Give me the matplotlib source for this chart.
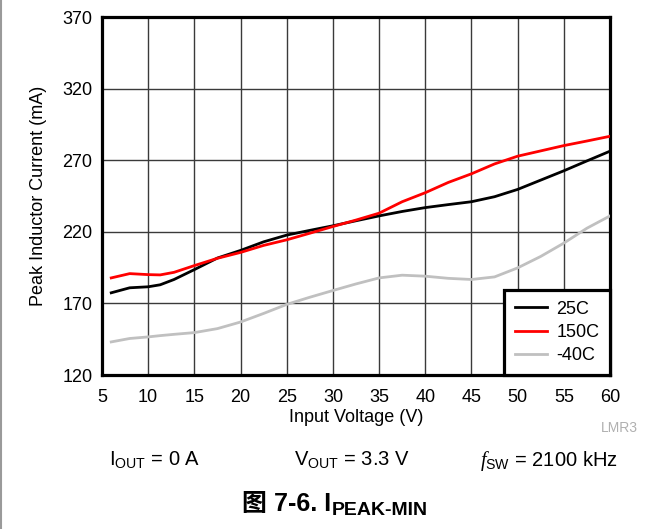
import numpy as np
import matplotlib.pyplot as plt
from matplotlib.lines import Line2D

plt.rcParams['font.family'] = ['Liberation Sans', 'Noto Sans CJK SC']
plt.rcParams['mathtext.fontset'] = 'custom'
plt.rcParams['mathtext.rm'] = 'Liberation Sans'
plt.rcParams['mathtext.it'] = 'Liberation Serif:italic'
plt.rcParams['mathtext.bf'] = 'Liberation Sans:bold'

#############
##Data##
#############
vin = [6, 8, 10, 11.3, 12.8, 15, 17.5, 20, 22.5, 25, 27.5, 30, 32.5, 35, 37.5,
       40, 42.5, 45, 47.5, 50, 52.5, 55, 57.5, 60]
i_25c = [177.4, 180.9, 181.6, 183.0, 186.7, 193.6, 201.7, 207.0, 213.0, 217.7, 221.0,
         224.2, 227.7, 231.1, 234.2, 236.9, 239.0, 241.0, 244.5, 249.6, 256.1,
         262.6, 269.5, 276.3]
i_150c = [187.8, 190.8, 190.1, 189.9, 191.7, 196.4, 201.5, 205.6, 210.5, 214.4, 219.0,
          223.7, 228.2, 233.0, 241.0, 247.3, 254.5, 260.5, 267.4, 272.8, 276.5,
          280.2, 283.4, 286.7]
i_m40c = [143.1, 145.5, 146.6, 147.5, 148.4, 149.6, 152.4, 157.0, 163.0, 169.3, 174.3,
          179.0, 183.6, 187.8, 189.7, 189.0, 187.5, 186.7, 188.5, 194.8, 202.8,
          212.1, 222.5, 231.1]
series_names = ["25C", "150C", "-40C"]
series_colors = ["black", "#ff0000", "#c0c0c0"]

x_ticks = np.arange(5, 61, 5)
y_ticks = np.arange(120, 371, 50)

###############
##Plot##
###############
fig = plt.figure(figsize=(6.63, 5.29), dpi=100)
ax = fig.add_axes([102/663, 1-375/529, 508/663, 358/529])

for vals, name, col in zip([i_25c, i_150c, i_m40c], series_names, series_colors):
    ax.plot(vin, vals, color=col, lw=2, label=name, zorder=3)

ax.set_xlim(5, 60)
ax.set_ylim(120, 370)
ax.set_xticks(x_ticks)
ax.set_yticks(y_ticks)
ax.grid(True, color="#3a3a3a", lw=1.0)
ax.tick_params(length=0, labelsize=13)
ax.tick_params(axis="y", pad=7)
ax.tick_params(axis="x", pad=10)
for sp in ax.spines.values():
    sp.set_linewidth(2.3)

ax.set_xlabel("Input Voltage (V)", fontsize=13)
ax.set_ylabel("Peak Inductor Current (mA)", fontsize=13)
ax.xaxis.set_label_coords(0.5, -0.095)
ax.yaxis.set_label_coords(-0.108, 0.5)

leg = ax.legend(loc="lower right", borderaxespad=0, fontsize=13, fancybox=False,
                framealpha=1, edgecolor="black", handlelength=1.8,
                handletextpad=0.5, labelspacing=0.35, borderpad=0.6)
leg.get_frame().set_linewidth(2.3)

# footnotes
fig.text(638/663, 1-428/529, "LMR3", fontsize=10, color="#b0b0b0",
         ha="right", va="center")
fig.text(109/663, 1-466/529, r"$\mathregular{I_{OUT}}$ = 0 A", fontsize=14.5, ha="left", va="baseline")
fig.text(294/663, 1-466/529, r"$\mathregular{V_{OUT}}$ = 3.3 V", fontsize=14.5, ha="left", va="baseline")
fig.text(480/663, 1-466/529, r"$\mathit{f}_{\mathregular{SW}}$ = 2100 kHz", fontsize=14.5, ha="left", va="baseline")

# caption
fig.text(331/663, 1-511/529, "图 7-6. I", fontsize=18, fontweight="bold", ha="right", va="baseline")
fig.text(332/663, 1-515/529, "PEAK-MIN", fontsize=14, fontweight="bold", ha="left", va="baseline")

# page border at left
fig.add_artist(Line2D([0.002, 0.002], [0, 1], transform=fig.transFigure, color="#9a9a9a", lw=1.5))

plt.savefig("out.png", dpi=100)
